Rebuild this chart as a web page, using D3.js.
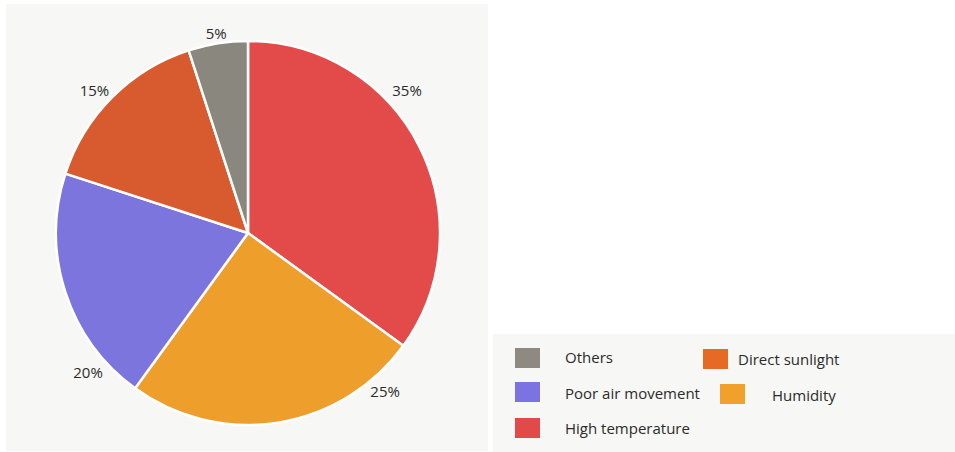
<!DOCTYPE html>
<html>
<head>
<meta charset="utf-8">
<script src="https://cdn.jsdelivr.net/npm/d3@7"></script>
<style>
  html, body { margin: 0; padding: 0; background: #ffffff; }
  svg { display: block; font-family: "Open Sans", "Noto Sans", sans-serif; }
</style>
</head>
<body>
<svg id="chart" width="955" height="452"></svg>
<script>
// Data
const categories = ["High temperature", "Humidity", "Poor air movement", "Direct sunlight", "Others"];
const values = [35, 25, 20, 15, 5];
const sliceColors = ["#e24b4a", "#ee9e2a", "#7d75de", "#d75b2f", "#8a877f"];
const legendOrder = ["Others", "Direct sunlight", "Poor air movement", "Humidity", "High temperature"];
const legendColors = { "Others": "#8e8a82", "Direct sunlight": "#e66a26", "Poor air movement": "#7b73e1", "Humidity": "#f0a02b", "High temperature": "#e24a4a" };

// Layout
const svg = d3.select("#chart");
const cx = 248, cy = 233, radius = 192;
// label placement (deg clockwise from top, distance from centre) as in the reference
const labelAngleDeg = [48, 139, 229, 313, 351];
const labelDist = [214, 209, 212, 210, 203];

svg.append("rect").attr("x", 6).attr("y", 4).attr("width", 482).attr("height", 447).attr("fill", "#f7f7f5");
svg.append("rect").attr("x", 493).attr("y", 334).attr("width", 462).attr("height", 118).attr("fill", "#f7f7f5");

const pie = d3.pie().sort(null).value(d => d.v);
const arcs = pie(categories.map((c, i) => ({ c, v: values[i], i })));
const arc = d3.arc().innerRadius(0).outerRadius(radius);
const color = d3.scaleOrdinal().domain(categories).range(sliceColors);

const g = svg.append("g").attr("transform", `translate(${cx},${cy})`);
g.selectAll("path").data(arcs).join("path")
  .attr("d", arc)
  .attr("fill", d => color(d.data.c))
  .attr("stroke", "#ffffff")
  .attr("stroke-width", 2.5)
  .attr("stroke-linejoin", "round");

g.selectAll("text.lbl").data(arcs).join("text")
  .attr("class", "lbl")
  .attr("x", d => labelDist[d.index] * Math.sin(labelAngleDeg[d.index] * Math.PI / 180))
  .attr("y", d => -labelDist[d.index] * Math.cos(labelAngleDeg[d.index] * Math.PI / 180))
  .attr("text-anchor", "middle")
  .attr("dominant-baseline", "central")
  .attr("font-size", 15)
  .attr("fill", "#2b2b2b")
  .text(d => d.data.v + "%");

// Legend
const legendPos = {
  "Others": { sx: 515, sy: 348, tx: 565, ty: 357 },
  "Direct sunlight": { sx: 703, sy: 349, tx: 738, ty: 359 },
  "Poor air movement": { sx: 515, sy: 382, tx: 565, ty: 393 },
  "Humidity": { sx: 720, sy: 384, tx: 772, ty: 395 },
  "High temperature": { sx: 515, sy: 418, tx: 565, ty: 428 }
};
const lg = svg.append("g");
legendOrder.forEach(name => {
  const p = legendPos[name];
  lg.append("rect").attr("x", p.sx).attr("y", p.sy).attr("width", 25).attr("height", 20).attr("fill", legendColors[name]);
  lg.append("text").attr("x", p.tx).attr("y", p.ty)
    .attr("dominant-baseline", "central")
    .attr("font-size", 15).attr("fill", "#2b2b2b").text(name);
});
</script>
</body>
</html>
